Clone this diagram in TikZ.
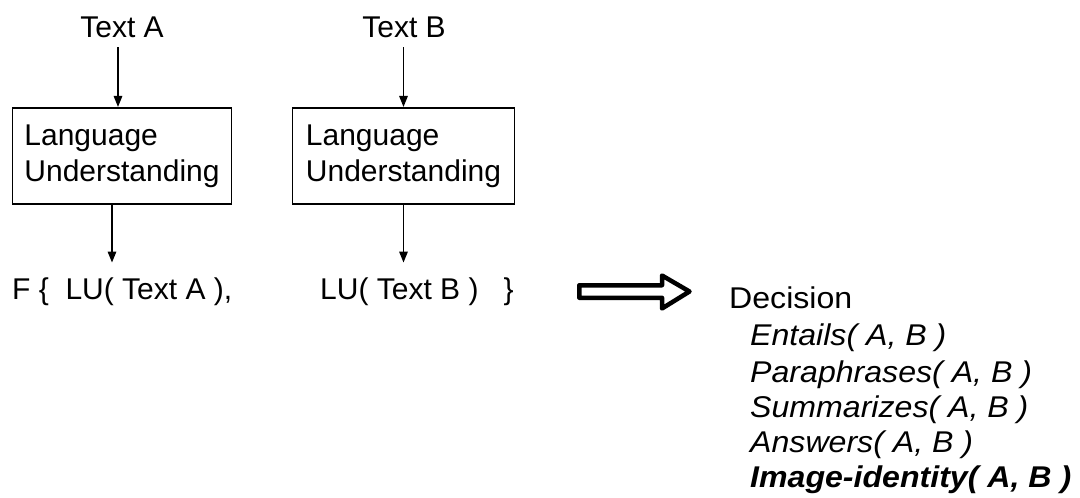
\documentclass[tikz,border=0pt]{standalone}
\usepackage{fontspec}
\usepackage{graphicx}
\setmainfont{Liberation Sans}
\usetikzlibrary{arrows.meta}
\begin{document}
\begin{tikzpicture}[x=1pt,y=-1pt,
  lbl/.style={font=\fontsize{30}{36}\selectfont, inner sep=0pt},
  lubox/.style={draw, line width=1.6pt, font=\fontsize{30}{36}\selectfont, align=left,
                minimum width=219pt, minimum height=96.5pt, inner sep=0pt},
  arr/.style={line width=1.5pt, -{Triangle[length=11pt,width=8.5pt]}},
  bigarr/.style={line width=4.5pt, line join=round, draw=black, fill=white},
  item/.style={lbl, anchor=base west}
]
\useasboundingbox (0,0) rectangle (1080,498);

% inputs
\node[lbl, anchor=base] (textA) at (122,37) {Text A};
\node[lbl, anchor=base] (textB) at (404,37) {Text B};

% boxes
\node[lubox] (boxA) at (122,156) {Language\\Understanding};
\node[lubox, minimum width=222pt] (boxB) at (403.5,156) {Language\\Understanding};

% bottom row
\node[item] (luA) at (12,299) {F \{~~LU( Text A ),};
\node[item] (luB) at (320,299) {LU( Text B )~~~\}};

% arrows
\draw[arr] ([xshift=-4pt,yshift=-10pt]textA.base) -- ([xshift=-4pt]boxA.north);
\draw[arr] ([xshift=-0.5pt,yshift=-10pt]textB.base) -- (boxB.north);
\draw[arr, shorten >=14.5pt] ([xshift=-10pt]boxA.south) -- ([xshift=-10pt]boxA.south |- luA.north);
\draw[arr, shorten >=14.5pt] (boxB.south) -- (boxB.south |- luB.north);

% big hollow arrow
\draw[bigarr] (579.25,285.25) -- (662,285.25) -- (662,275.5) -- (689.5,291.5)
  -- (662,308.5) -- (662,297.75) -- (579.25,297.75) -- cycle;

% decision list
\node[item] (dec) at (729,308) {\scalebox{1.07}[1]{Decision}};
\node[item] (d1) at (750,345) {\scalebox{1.07}[1]{\itshape Entails( A, B )}};
\node[item] (d2) at (750,382) {\scalebox{1.07}[1]{\itshape Paraphrases( A, B )}};
\node[item] (d3) at (750,417) {\scalebox{1.07}[1]{\itshape Summarizes( A, B )}};
\node[item] (d4) at (750,452) {\scalebox{1.07}[1]{\itshape Answers( A, B )}};
\node[item] (d5) at (750,487) {\scalebox{1.07}[1]{\bfseries\itshape Image-identity( A, B )}};
\end{tikzpicture}
\end{document}
